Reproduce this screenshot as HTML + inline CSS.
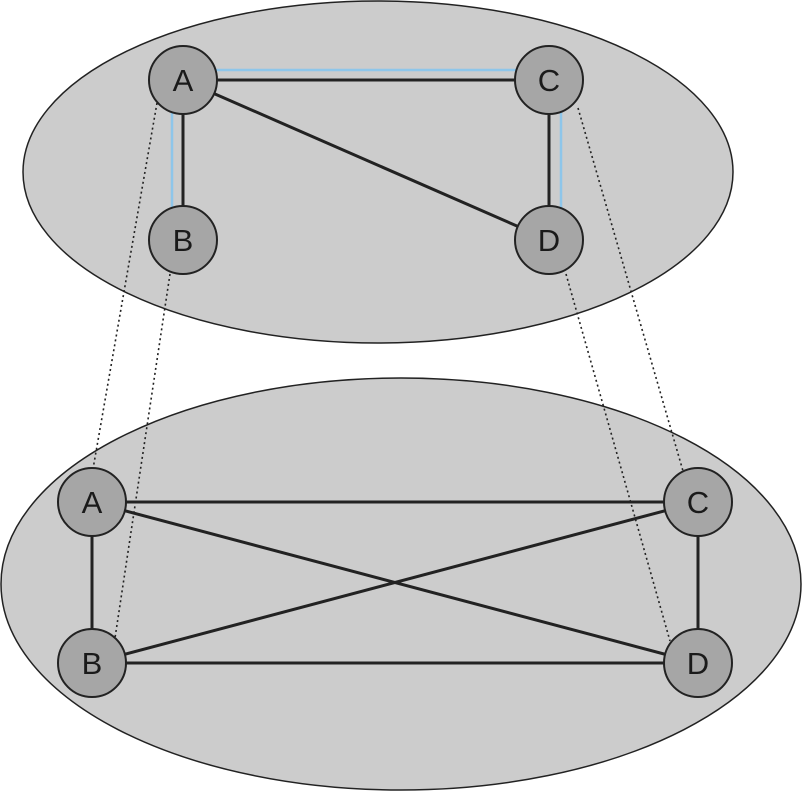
<!DOCTYPE html>
<html><head><style>body{margin:0;background:#fff}svg{display:block}</style></head><body>
<svg width="804" height="791" viewBox="0 0 804 791" xmlns="http://www.w3.org/2000/svg" font-family="Liberation Sans, sans-serif">
<ellipse cx="378" cy="172" rx="355" ry="171" fill="#cccccc" stroke="#222" stroke-width="1.5"/>
<ellipse cx="401" cy="584" rx="400" ry="206" fill="#cccccc" stroke="#222" stroke-width="1.5"/>
<g stroke="#8ec6ea" stroke-width="2.5" fill="none">
<line x1="210" y1="70" x2="522" y2="70"/>
<line x1="172" y1="108" x2="172" y2="210"/>
<line x1="561" y1="108" x2="561" y2="210"/>
</g>
<g stroke="#222" stroke-width="3">
<line x1="183" y1="80" x2="549" y2="80"/>
<line x1="183" y1="80" x2="183" y2="240"/>
<line x1="549" y1="80" x2="549" y2="240"/>
<line x1="183" y1="80" x2="549" y2="240"/>
<line x1="92" y1="502" x2="698" y2="502"/>
<line x1="92" y1="663" x2="698" y2="663"/>
<line x1="92" y1="502" x2="92" y2="663"/>
<line x1="698" y1="502" x2="698" y2="663"/>
<line x1="92" y1="502" x2="698" y2="663"/>
<line x1="92" y1="663" x2="698" y2="502"/>
</g>
<g stroke="#222" stroke-width="1.6" stroke-dasharray="2,3">
<line x1="157" y1="103" x2="93" y2="469"/>
<line x1="170" y1="274" x2="115" y2="638"/>
<line x1="578" y1="108" x2="683" y2="471"/>
<line x1="566" y1="274" x2="670" y2="641"/>
</g>
<g fill="#a6a6a6" stroke="#222" stroke-width="2">
<circle cx="183" cy="80" r="34"/><circle cx="549" cy="80" r="34"/>
<circle cx="183" cy="240" r="34"/><circle cx="549" cy="240" r="34"/>
<circle cx="92" cy="502" r="34"/><circle cx="698" cy="502" r="34"/>
<circle cx="92" cy="663" r="34"/><circle cx="698" cy="663" r="34"/>
</g>
<g font-size="31" fill="#1a1a1a" text-anchor="middle">
<text x="183" y="91">A</text><text x="549" y="91">C</text>
<text x="183" y="251">B</text><text x="549" y="251">D</text>
<text x="92" y="513">A</text><text x="698" y="513">C</text>
<text x="92" y="674">B</text><text x="698" y="674">D</text>
</g>
</svg>
</body></html>
